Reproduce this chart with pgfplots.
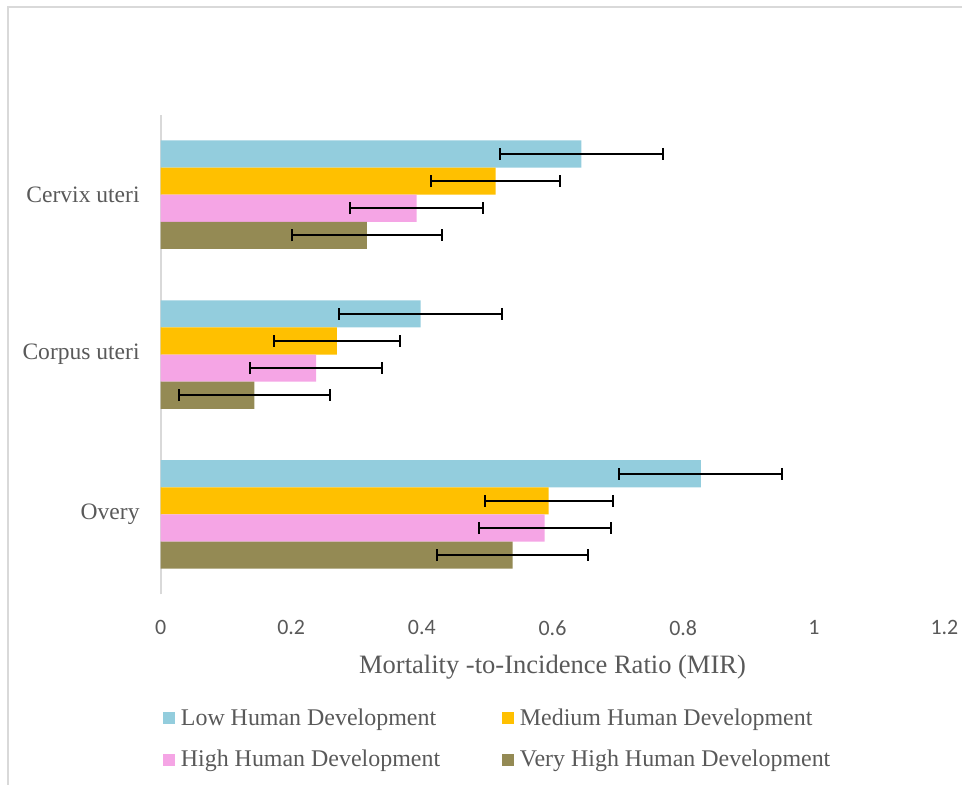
\documentclass[border=0pt]{standalone}
\usepackage{pgfplots}
\pgfplotsset{compat=1.18}
\usepackage{fontspec}
\setmainfont{Liberation Serif}
\newfontfamily\carlito{Carlito}
\definecolor{lowc}{HTML}{93CDDD}
\definecolor{medc}{HTML}{FFC000}
\definecolor{highc}{HTML}{F5A5E5}
\definecolor{vhighc}{HTML}{948A54}
\definecolor{txt}{HTML}{595959}
\definecolor{axisgray}{HTML}{D9D9D9}
\begin{document}
\begin{tikzpicture}
\begin{axis}[
  scale only axis,
  width=393pt, height=240.5pt,
  xbar, bar width=13.6pt,
  xmin=0, xmax=1.2, ymin=-0.5, ymax=2.5,
  axis lines*=left,
  x axis line style={draw=none},
  y axis line style={draw=axisgray, line width=1pt},
  major tick length=0pt,
  xtick={0,0.2,0.4,0.6,0.8,1,1.2},
  xticklabels={0,0.2,0.4,0.6,0.8,1,1.2},
  xticklabel style={font=\carlito\fontsize{11}{13}\selectfont, text=txt, yshift=-9.5pt},
  ytick={0,1,2},
  yticklabels={Overy, Corpus uteri, Cervix uteri},
  yticklabel style={font=\fontsize{11.8}{14}\selectfont, text=txt, xshift=-7pt},
  xlabel={Mortality -to-Incidence Ratio (MIR)},
  xlabel style={font=\fontsize{13.3}{16}\selectfont, text=txt, at={(axis description cs:0.5,0)}, anchor=center, yshift=-36.5pt},
  legend columns=2,
  legend style={at={(0,0)}, anchor=north west, xshift=1pt, yshift=-55pt, draw=none, fill=none,
    font=\fontsize{12}{14}\selectfont, text=txt, inner sep=0pt,
    row sep=7pt,
    /tikz/every odd column/.append style={column sep=1pt},
    /tikz/every even column/.append style={column sep=29pt}},
  legend cell align=left,
  legend image code/.code={\fill[#1] (0pt,-3pt) rectangle (6pt,3pt);},
  error bars/x dir=both, error bars/x explicit,
  error bars/error bar style={black, line width=1pt},
  error bars/error mark options={black, line width=1pt, mark size=3pt, rotate=90},
]
% Low
\addplot[fill=lowc, draw=none, bar shift=20.4pt] coordinates {
  (0.827,0) +- (0.1245,0)
  (0.398,1) +- (0.1245,0)
  (0.644,2) +- (0.1245,0)
};
% Medium
\addplot[fill=medc, draw=none, bar shift=6.8pt] coordinates {
  (0.594,0) +- (0.098,0)
  (0.270,1) +- (0.0965,0)
  (0.513,2) +- (0.0985,0)
};
% High
\addplot[fill=highc, draw=none, bar shift=-6.8pt] coordinates {
  (0.588,0) +- (0.101,0)
  (0.238,1) +- (0.1015,0)
  (0.392,2) +- (0.1015,0)
};
% Very high
\addplot[fill=vhighc, draw=none, bar shift=-20.4pt] coordinates {
  (0.539,0) +- (0.1155,0)
  (0.1435,1) +- (0.1155,0)
  (0.316,2) +- (0.1145,0)
};
\legend{Low Human Development, Medium Human Development, High Human Development, Very High Human Development}
\end{axis}
\begin{scope}[shift={(current axis.south west)}, x=0.5pt, y=-0.5pt]
  \path (-161,191) rectangle (804,-596);
  \draw[axisgray, line width=1pt] (-153,191) -- (-153,-589) -- (804,-589);
\end{scope}
\end{tikzpicture}
\end{document}
